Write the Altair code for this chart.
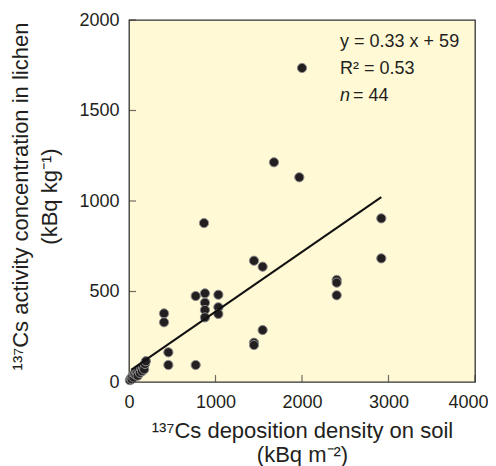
import altair as alt
import pandas as pd

# --- data ---
soil = [2000, 1676, 1969, 2917, 2917, 1445, 1545, 2401, 2401, 2401,
        771, 878, 1033, 878, 878, 878, 1033, 1033, 405, 405,
        455, 455, 771, 1445, 1445, 1545, 867,
        10, 20, 30, 40, 55, 60, 75, 90, 100, 110, 125, 140, 150, 160, 175, 185, 195]
lichen = [1735, 1214, 1131, 904, 683, 670, 637, 564, 549, 479,
          475, 490, 482, 438, 398, 357, 413, 376, 379, 330,
          164, 94, 94, 217, 204, 287, 878,
          10, 20, 15, 30, 25, 45, 40, 55, 35, 65, 50, 75, 60, 85, 70, 100, 115]
x_ticks = [0, 1000, 2000, 3000, 4000]
y_ticks = [0, 500, 1000, 1500, 2000]
slope = 0.33
intercept = 59
line_x = [25, 2917]
ann_lines = ["y = 0.33 x + 59", "R\u00b2 = 0.53"]
ann_x = 2440
ann_y = [1880, 1730]
n_y = 1580
n_label = "= 44"

FONT = "Liberation Sans"
TXT = "#231f20"

pts = pd.DataFrame({"x": soil, "y": lichen})
line_df = pd.DataFrame({"x": line_x, "y": [slope * v + intercept for v in line_x]})
xt = pd.DataFrame({"x": x_ticks})
yt = pd.DataFrame({"y": y_ticks})
ann = pd.DataFrame({"x": [ann_x] * len(ann_lines), "y": ann_y, "t": ann_lines})
ndf = pd.DataFrame({"x": [ann_x], "y": [n_y], "t": [n_label]})

xscale = alt.Scale(domain=[0, 4000], nice=False, zero=False)
yscale = alt.Scale(domain=[0, 2000], nice=False, zero=False)

xaxis = alt.Axis(values=x_ticks, ticks=False, domain=False, grid=False, format="d",
                 labelFont=FONT, labelFontSize=18, labelColor=TXT, labelPadding=11,
                 labelFlush=False,
                 labelAlign={"condition": {"test": "datum.value === 4000", "value": "right"},
                             "value": "center"},
                 labelOffset={"condition": {"test": "datum.value === 4000", "value": 13},
                              "value": 0},
                 title=["\u00b9\u00b3\u2077Cs deposition density on soil", "(kBq m\u207b\u00b2)"],
                 titleFont=FONT, titleFontSize=22, titleFontWeight="normal", titleColor=TXT,
                 titleLineHeight=24, titleBaseline="top", titleY=38)
yaxis = alt.Axis(values=y_ticks, ticks=False, domain=False, grid=False, format="d",
                 labelFont=FONT, labelFontSize=18, labelColor=TXT, labelPadding=10,
                 labelFlush=False,
                 title=["\u00b9\u00b3\u2077Cs activity concentration in lichen", "(kBq kg\u207b\u00b9)"],
                 titleFont=FONT, titleFontSize=22, titleFontWeight="normal", titleColor=TXT,
                 titleLineHeight=29, titleBaseline="top", titleX=-119, titleY=176)

points = alt.Chart(pts).mark_circle(size=85, color="#231f20", opacity=1,
                                    stroke="#8c8c8c", strokeWidth=1).encode(
    x=alt.X("x:Q", scale=xscale, axis=xaxis),
    y=alt.Y("y:Q", scale=yscale, axis=yaxis),
)

line = alt.Chart(line_df).mark_line(color="#111111", strokeWidth=2).encode(
    x=alt.X("x:Q"), y=alt.Y("y:Q"))

xtick = alt.Chart(xt).mark_tick(orient="vertical", size=7, thickness=1.2, color="#333333").encode(
    x=alt.X("x:Q"), y=alt.value(358.5))
ytick = alt.Chart(yt).mark_tick(orient="horizontal", size=7, thickness=1.2, color="#333333").encode(
    y=alt.Y("y:Q"), x=alt.value(3.5))

ann_text = alt.Chart(ann).mark_text(align="left", baseline="middle", font=FONT,
                                    fontSize=18, color=TXT).encode(
    x=alt.X("x:Q"), y=alt.Y("y:Q"), text="t:N")
n_italic = alt.Chart(ndf).mark_text(align="left", baseline="middle", font=FONT,
                                    fontSize=18, fontStyle="italic", color=TXT, text="n").encode(
    x=alt.X("x:Q"), y=alt.Y("y:Q"))
n_rest = alt.Chart(ndf).mark_text(align="left", baseline="middle", font=FONT,
                                  fontSize=18, color=TXT, dx=13).encode(
    x=alt.X("x:Q"), y=alt.Y("y:Q"), text="t:N")

chart = alt.layer(points, line, xtick, ytick, ann_text, n_italic, n_rest).properties(
    width=346, height=362,
    padding={"left": 121, "top": 12, "right": 13, "bottom": 84},
    autosize=alt.AutoSizeParams(type="none"),
).configure_view(
    fill="#FFF9D6", stroke="#333333", strokeWidth=1.3
)

chart.save("out.html", embed_options={"renderer": "svg", "actions": False})
